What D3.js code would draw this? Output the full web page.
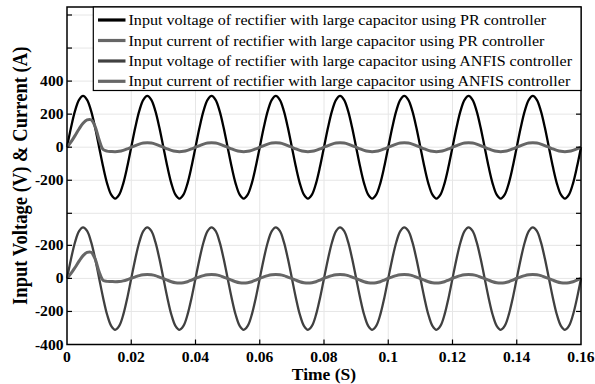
<!DOCTYPE html>
<html>
<head>
<meta charset="utf-8">
<script src="https://cdn.jsdelivr.net/npm/d3@7"></script>
<style>
  html, body { margin: 0; padding: 0; background: #fff; }
  svg { display: block; }
</style>
</head>
<body>
<svg id="chart" width="595" height="384"></svg>
<script>
// ---- data (time in ms) ----
const timeMs = [
  0,1.25,2.5,3.75,5,6.25,7.5,8.75,10,11.25,12.5,13.75,15,16.25,17.5,18.75,
  20,21.25,22.5,23.75,25,26.25,27.5,28.75,30,31.25,32.5,33.75,35,36.25,37.5,38.75,
  40,41.25,42.5,43.75,45,46.25,47.5,48.75,50,51.25,52.5,53.75,55,56.25,57.5,58.75,
  60,61.25,62.5,63.75,65,66.25,67.5,68.75,70,71.25,72.5,73.75,75,76.25,77.5,78.75,
  80,81.25,82.5,83.75,85,86.25,87.5,88.75,90,91.25,92.5,93.75,95,96.25,97.5,98.75,
  100,101.25,102.5,103.75,105,106.25,107.5,108.75,110,111.25,112.5,113.75,115,116.25,117.5,118.75,
  120,121.25,122.5,123.75,125,126.25,127.5,128.75,130,131.25,132.5,133.75,135,136.25,137.5,138.75,
  140,141.25,142.5,143.75,145,146.25,147.5,148.75,150,151.25,152.5,153.75,155,156.25,157.5,158.75,
  160
];
const voltagePR = [
  0,119,220,287,311,287,220,119,0,-119,-220,-287,-311,-287,-220,-119,
  0,119,220,287,311,287,220,119,0,-119,-220,-287,-311,-287,-220,-119,
  0,119,220,287,311,287,220,119,0,-119,-220,-287,-311,-287,-220,-119,
  0,119,220,287,311,287,220,119,0,-119,-220,-287,-311,-287,-220,-119,
  0,119,220,287,311,287,220,119,0,-119,-220,-287,-311,-287,-220,-119,
  0,119,220,287,311,287,220,119,0,-119,-220,-287,-311,-287,-220,-119,
  0,119,220,287,311,287,220,119,0,-119,-220,-287,-311,-287,-220,-119,
  0,119,220,287,311,287,220,119,0,-119,-220,-287,-311,-287,-220,-119,
  0
];
const currentPR = [
  0,32,70,110,145,165,166,125,45,-14,-24,-26,-27,-25,-19,-10,
  0,10,19,25,27,25,19,10,0,-10,-19,-25,-27,-25,-19,-10,
  0,10,19,25,27,25,19,10,0,-10,-19,-25,-27,-25,-19,-10,
  0,10,19,25,27,25,19,10,0,-10,-19,-25,-27,-25,-19,-10,
  0,10,19,25,27,25,19,10,0,-10,-19,-25,-27,-25,-19,-10,
  0,10,19,25,27,25,19,10,0,-10,-19,-25,-27,-25,-19,-10,
  0,10,19,25,27,25,19,10,0,-10,-19,-25,-27,-25,-19,-10,
  0,10,19,25,27,25,19,10,0,-10,-19,-25,-27,-25,-19,-10,
  0
];
const voltageANFIS = [
  0,118,219,286,309,287,221,120,1,-118,-220,-287,-311,-288,-221,-120,
  0,118,219,286,309,287,221,120,1,-118,-220,-287,-311,-288,-221,-120,
  0,118,219,286,309,287,221,120,1,-118,-220,-287,-311,-288,-221,-120,
  0,118,219,286,309,287,221,120,1,-118,-220,-287,-311,-288,-221,-120,
  0,118,219,286,309,287,221,120,1,-118,-220,-287,-311,-288,-221,-120,
  0,118,219,286,309,287,221,120,1,-118,-220,-287,-311,-288,-221,-120,
  0,118,219,286,309,287,221,120,1,-118,-220,-287,-311,-288,-221,-120,
  0,118,219,286,309,287,221,120,1,-118,-220,-287,-311,-288,-221,-120,
  0
];
const currentANFIS = [
  0,30,66,104,138,157,158,118,40,-12,-18,-19,-20,-19,-15,-8,
  1,9,17,22,24,22,17,8,-1,-11,-20,-26,-28,-26,-20,-10,
  1,9,17,22,24,22,17,8,-1,-11,-20,-26,-28,-26,-20,-10,
  1,9,17,22,24,22,17,8,-1,-11,-20,-26,-28,-26,-20,-10,
  1,9,17,22,24,22,17,8,-1,-11,-20,-26,-28,-26,-20,-10,
  1,9,17,22,24,22,17,8,-1,-11,-20,-26,-28,-26,-20,-10,
  1,9,17,22,24,22,17,8,-1,-11,-20,-26,-28,-26,-20,-10,
  1,9,17,22,24,22,17,8,-1,-11,-20,-26,-28,-26,-20,-10,
  0
];
const xTicks = [0, 0.02, 0.04, 0.06, 0.08, 0.1, 0.12, 0.14, 0.16];
const xTickLabels = ["0", "0.02", "0.04", "0.06", "0.08", "0.1", "0.12", "0.14", "0.16"];
const topTicks = [800, 600, 400, 200, 0, -200, -400];
const topTickLabels = ["", "", "400", "200", "0", "-200", ""];
const bottomTicks = [200, 0, -200, -400];
const bottomTickLabels = ["-200", "0", "-200", "-400"];
const legendLabels = [
  "Input voltage of rectifier with large capacitor using PR controller",
  "Input current of rectifier with large capacitor using PR controller",
  "Input voltage of rectifier with large capacitor using ANFIS controller",
  "Input current of rectifier with large capacitor using ANFIS controller"
];

// ---- layout ----
const svg = d3.select("#chart");
const L = 67, R = 581, T = 7, B = 344.5;
const x = d3.scaleLinear().domain([0, 0.16]).range([L, R]);
const yTop = d3.scaleLinear().domain([-400, 800]).range([213.3, 15]);
const yBot = d3.scaleLinear().domain([-400, 400]).range([344.5, 212.3]);
const serif = "'Liberation Serif', 'Times New Roman', serif";

// grid
const grid = svg.append("g").attr("stroke", "#e6e6e6").attr("stroke-width", 1);
xTicks.slice(1, -1).forEach(t => grid.append("line").attr("x1", x(t)).attr("x2", x(t)).attr("y1", T).attr("y2", B));
topTicks.forEach(v => grid.append("line").attr("x1", L).attr("x2", R).attr("y1", yTop(v)).attr("y2", yTop(v)));
bottomTicks.slice(0, 3).forEach(v => grid.append("line").attr("x1", L).attr("x2", R).attr("y1", yBot(v)).attr("y2", yBot(v)));

// series
const styles = [
  { data: voltagePR, y: yTop, color: "#000000", w: 2.3 },
  { data: currentPR, y: yTop, color: "#666666", w: 3 },
  { data: voltageANFIS, y: yBot, color: "#404040", w: 2.3 },
  { data: currentANFIS, y: yBot, color: "#666666", w: 3 }
];
styles.forEach(s => {
  const line = d3.line()
    .x((d, k) => x(timeMs[k] / 1000))
    .y(d => s.y(d))
    .curve(d3.curveCatmullRom.alpha(0.5));
  svg.append("path").attr("d", line(s.data))
    .attr("fill", "none").attr("stroke", s.color).attr("stroke-width", s.w)
    .attr("stroke-linejoin", "round");
});

// frame
svg.append("rect").attr("x", L).attr("y", T).attr("width", R - L).attr("height", B - T)
  .attr("fill", "none").attr("stroke", "#000").attr("stroke-width", 1.5);

// ticks
const tk = svg.append("g").attr("stroke", "#000").attr("stroke-width", 1.2);
const tl = 5;
xTicks.slice(1, -1).forEach(t => {
  tk.append("line").attr("x1", x(t)).attr("x2", x(t)).attr("y1", B).attr("y2", B - tl);
  tk.append("line").attr("x1", x(t)).attr("x2", x(t)).attr("y1", T).attr("y2", T + tl);
});
const yTickPos = topTicks.map(v => yTop(v)).concat(bottomTicks.slice(0, 3).map(v => yBot(v)));
yTickPos.forEach(py => {
  tk.append("line").attr("x1", L).attr("x2", L + tl).attr("y1", py).attr("y2", py);
  tk.append("line").attr("x1", R).attr("x2", R - tl).attr("y1", py).attr("y2", py);
});

// horizontally stretched text helper (the reference figure is stretched in x)
function stretchedText(parent, px, py, str, anchor, size, weight, sx) {
  return parent.append("text")
    .attr("transform", `translate(${px},${py}) scale(${sx},1)`)
    .attr("text-anchor", anchor)
    .attr("font-family", serif).attr("font-weight", weight).attr("font-size", size)
    .attr("fill", "#000").text(str);
}

// tick labels
const lab = svg.append("g");
const tickSize = 14.5;
const probe = stretchedText(lab, -100, -100, "0.02", "start", tickSize, "bold", 1);
const tickSx = 27.3 / probe.node().getComputedTextLength();
probe.remove();
xTicks.forEach((t, i) => stretchedText(lab, x(t), 361.5, xTickLabels[i], "middle", tickSize, "bold", tickSx));
topTicks.forEach((v, i) => {
  if (topTickLabels[i]) stretchedText(lab, 63.5, yTop(v) + 5, topTickLabels[i], "end", tickSize, "bold", tickSx);
});
bottomTicks.forEach((v, i) => stretchedText(lab, 63.5, yBot(v) + 5, bottomTickLabels[i], "end", tickSize, "bold", tickSx));

// axis titles
svg.append("text").attr("x", (L + R) / 2).attr("y", 380).attr("text-anchor", "middle")
  .attr("font-family", serif).attr("font-weight", "bold").attr("font-size", 17.5).text("Time (S)");
svg.append("text").attr("transform", `translate(27,${(T + B) / 2}) rotate(-90) scale(1,1.12)`).attr("text-anchor", "middle")
  .attr("font-family", serif).attr("font-weight", "bold").attr("font-size", 18.6).text("Input Voltage (V) & Current (A)");

// legend
const lg = svg.append("g");
lg.append("rect").attr("x", 93.3).attr("y", T).attr("width", R - 93.3).attr("height", 83.5)
  .attr("fill", "#fff").attr("stroke", "#000").attr("stroke-width", 1.2);
const rowY = [20, 40.5, 61, 81.3];
const legProbe = stretchedText(lg, -1000, -100, legendLabels[0], "start", 14.5, "normal", 1);
const legSx = 418 / legProbe.node().getComputedTextLength();
legProbe.remove();
legendLabels.forEach((txt, i) => {
  const s = styles[i];
  lg.append("line").attr("x1", 98).attr("x2", 125.5).attr("y1", rowY[i]).attr("y2", rowY[i])
    .attr("stroke", s.color).attr("stroke-width", 3.2);
  stretchedText(lg, 128.5, rowY[i] + 5, txt, "start", 14.5, "normal", legSx);
});
</script>
</body>
</html>
